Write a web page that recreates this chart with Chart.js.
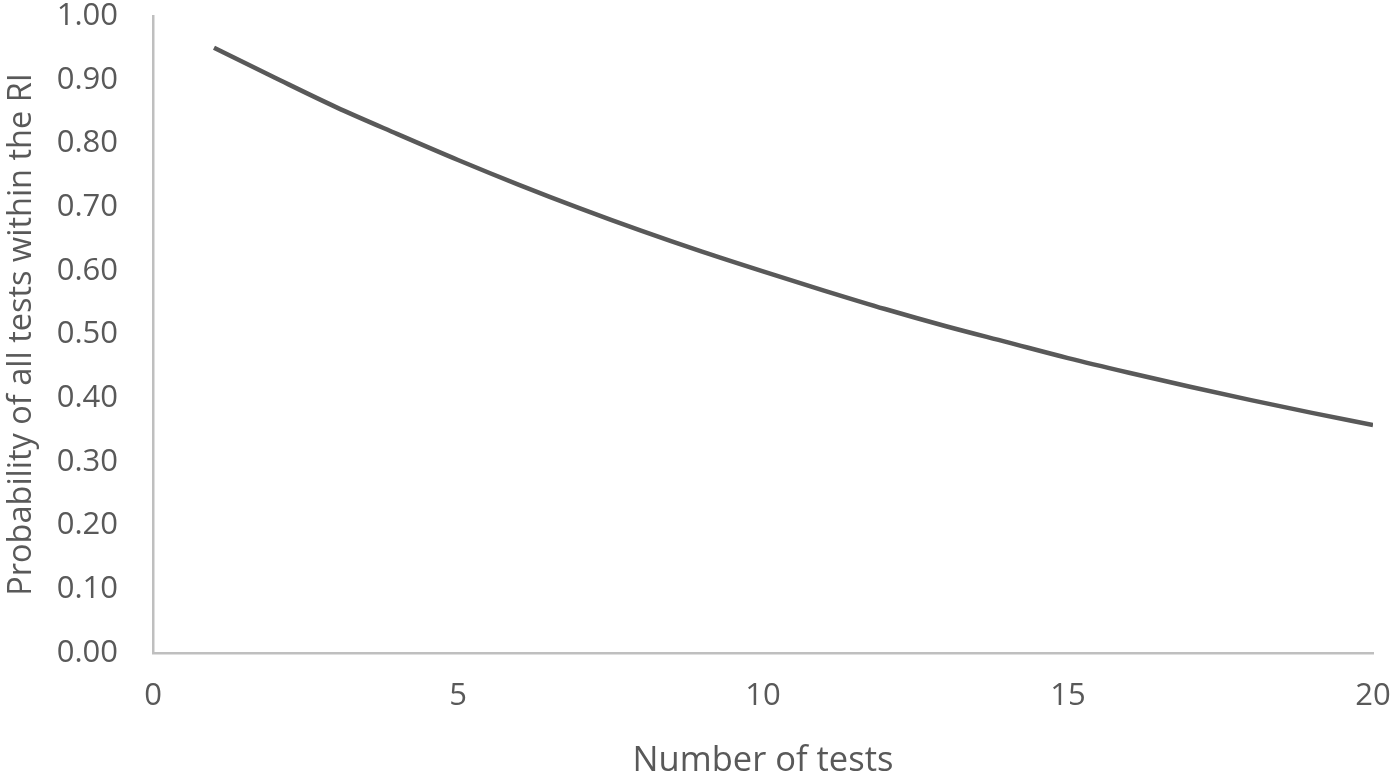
<!DOCTYPE html>
<html>
<head>
<meta charset="utf-8">
<script src="https://cdn.jsdelivr.net/npm/chart.js@4/dist/chart.umd.min.js"></script>
<style>
html,body{margin:0;padding:0;background:#fff;}
#wrap{width:1393px;height:776px;position:relative;}
</style>
</head>
<body>
<div id="wrap"><canvas id="c" width="1393" height="776"></canvas></div>
<script>
const numberOfTests = [1,2,3,4,5,6,7,8,9,10,11,12,13,14,15,16,17,18,19,20];
const probability = [0.950,0.903,0.857,0.815,0.774,0.735,0.698,0.663,0.630,0.599,0.569,0.540,0.513,0.488,0.463,0.440,0.418,0.397,0.377,0.358];
const xTitle = "Number of tests";
const yTitle = "Probability of all tests within the RI";

const points = numberOfTests.map((n,i)=>({x:n,y:probability[i]}));
const textColor = '#595959';
const fontFamily = "'Open Sans', 'Noto Sans', sans-serif";

new Chart(document.getElementById('c'), {
  type: 'line',
  data: {
    datasets: [{
      data: points,
      borderColor: '#595959',
      borderWidth: 4.5,
      pointRadius: 0,
      tension: 0.4,
      cubicInterpolationMode: 'monotone',
      fill: false
    }]
  },
  options: {
    responsive: false,
    animation: false,
    devicePixelRatio: 1,
    layout: { padding: 0 },
    plugins: { legend: { display: false }, tooltip: { enabled: false } },
    scales: {
      x: {
        type: 'linear',
        min: 0, max: 20,
        afterFit: s => { s.height = 123; s.paddingLeft = 0; s.paddingRight = 20; },
        ticks: { stepSize: 5, color: textColor, font: { family: fontFamily, size: 31 }, padding: 25, maxRotation: 0 },
        grid: { display: false, drawTicks: false },
        border: { color: '#BFBFBF', width: 2.5 },
        title: { display: true, text: xTitle, color: textColor, font: { family: fontFamily, size: 34.5 }, padding: { top: 0, bottom: -6 } }
      },
      y: {
        min: 0, max: 1,
        afterFit: s => { s.width = 153; s.paddingTop = 16; s.paddingBottom = 0; },
        ticks: { stepSize: 0.1, color: textColor, font: { family: fontFamily, size: 31 }, padding: 35, callback: v => v.toFixed(2) },
        grid: { display: false, drawTicks: false },
        border: { color: '#BFBFBF', width: 2.5 },
        title: { display: true, text: yTitle, color: textColor, font: { family: fontFamily, size: 32.5 }, padding: { top: 2, bottom: 0 } }
      }
    }
  }
});
</script>
</body>
</html>
